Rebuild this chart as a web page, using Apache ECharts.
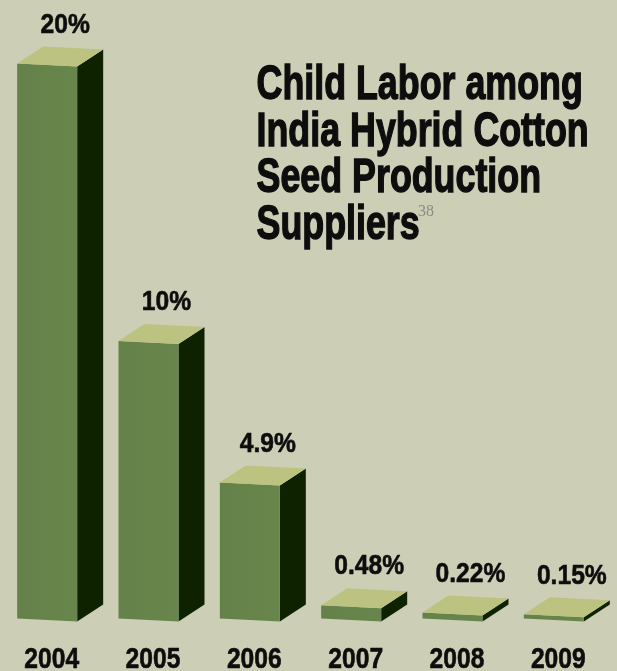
<!DOCTYPE html>
<html>
<head>
<meta charset="utf-8">
<script src="https://cdn.jsdelivr.net/npm/echarts@6/dist/echarts.min.js"></script>
<style>
  html, body { margin: 0; padding: 0; background: #cdceb6; }
  #chart { width: 617px; height: 671px; }
</style>
</head>
<body>
<div id="chart"></div>
<script>
// Share of child labour among India hybrid cotton seed production suppliers
const years = ['2004', '2005', '2006', '2007', '2008', '2009'];
const shares = [20, 10, 4.9, 0.48, 0.22, 0.15];
const shareLabels = ['20%', '10%', '4.9%', '0.48%', '0.22%', '0.15%'];
const titleLines = ['Child Labor among', 'India Hybrid Cotton', 'Seed Production', 'Suppliers'];
const footnote = '38';

const FONT = '"Liberation Sans", Arial, sans-serif';
const INK = '#0d0d0d';
const TOP = '#bcc280';
const SIDE = '#0e2200';

const chart = echarts.init(document.getElementById('chart'), null, { renderer: 'canvas' });

// 3D-looking block: front face, top face and right side face
function renderBlock(params, api) {
  const i = api.value(0);
  const v = api.value(1);
  const base = api.coord([i, 0]);
  const top = api.coord([i, v]);
  const cx = base[0];
  const L = cx - 33.5, R = cx + 26.5;
  const s = 1.5;            // slight downward slope of horizontal edges
  const dx = 26, dy = -17;  // depth offset
  const y0 = base[1], y1 = top[1];

  const front = [[L, y1 - s], [R, y1 + s], [R, y0 + s], [L, y0 - s]];
  const side = [[R, y1 + s], [R + dx, y1 + s + dy], [R + dx, y0 + s + dy], [R, y0 + s]];
  const cap = [[L, y1 - s], [R, y1 + s], [R + dx, y1 + s + dy], [L + dx, y1 - s + dy]];

  return {
    type: 'group',
    children: [
      { type: 'polygon', shape: { points: side }, style: { fill: SIDE } },
      {
        type: 'polygon', shape: { points: front },
        style: {
          fill: new echarts.graphic.LinearGradient(0, 0, 1, 0, [
            { offset: 0, color: '#64814a' }, { offset: 1, color: '#68864b' }
          ])
        }
      },
      { type: 'polygon', shape: { points: cap }, style: { fill: TOP } },
      {
        type: 'text', x: cx + 14.5, y: y1 - 40, scaleX: 0.88,
        style: {
          text: shareLabels[i], fill: INK, stroke: INK, lineWidth: 0.6,
          font: 'bold 28px ' + FONT, align: 'center', verticalAlign: 'middle'
        }
      },
      {
        type: 'text', x: cx + 1, y: 660, scaleX: 0.85,
        style: {
          text: years[i], fill: INK, stroke: INK, lineWidth: 0.6,
          font: 'bold 29px ' + FONT, align: 'center', verticalAlign: 'middle'
        }
      }
    ]
  };
}

chart.setOption({
  backgroundColor: '#cdceb6',
  animation: false,
  grid: { left: 0, right: 9, top: 65, bottom: 51 },
  xAxis: {
    type: 'category', data: years,
    axisLine: { show: false }, axisTick: { show: false }, axisLabel: { show: false }
  },
  yAxis: {
    type: 'value', min: 0, max: 20,
    show: false, splitLine: { show: false }
  },
  graphic: [
    {
      type: 'text', left: 256, top: 61, scaleX: 0.746,
      style: {
        text: titleLines.join('\n'), fill: INK, stroke: INK, lineWidth: 1.4,
        font: 'bold 48px ' + FONT, lineHeight: 46.7
      }
    },
    {
      type: 'text', left: 418, top: 204,
      style: { text: footnote, fill: '#8c8c84', font: '16px "Liberation Serif", serif' }
    }
  ],
  series: [{
    type: 'custom',
    renderItem: renderBlock,
    clip: false,
    data: years.map((y, i) => [i, shares[i]])
  }]
});
</script>
</body>
</html>
